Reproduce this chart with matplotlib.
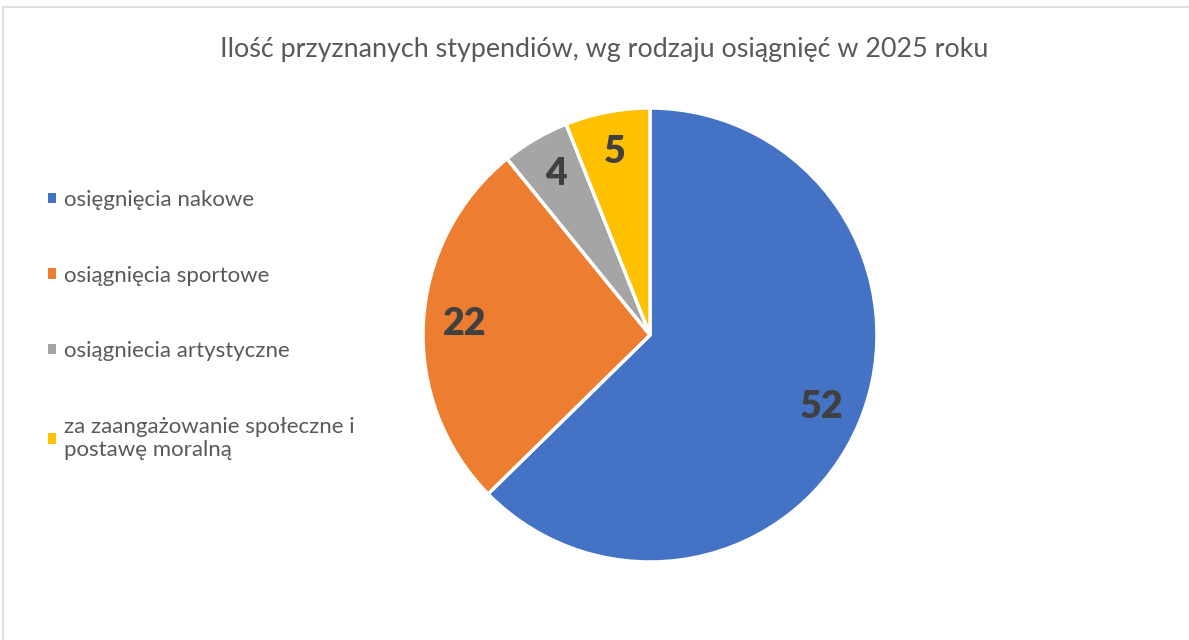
import matplotlib
matplotlib.use("Agg")
import matplotlib.pyplot as plt
from matplotlib.lines import Line2D
from matplotlib.patches import Patch

plt.rcParams['font.family'] = ['Lato', 'Open Sans', 'DejaVu Sans']

title = "Ilość przyznanych stypendiów, wg rodzaju osiągnięć w 2025 roku"
categories = ["osięgnięcia nakowe", "osiągnięcia sportowe", "osiągniecia artystyczne",
              "za zaangażowanie społeczne i\npostawę moralną"]
values = [52, 22, 4, 5]
colors = ["#4472C4", "#ED7D31", "#A5A5A5", "#FFC000"]

fig = plt.figure(figsize=(11.89, 6.4), dpi=100)
fig.patch.set_facecolor("white")

ax = fig.add_axes([423/1189, (640-562)/640, 454/1189, 454/640])
wedges, texts, autotexts = ax.pie(
    values, colors=colors, startangle=90, counterclock=False,
    autopct=lambda p: f"{round(p*sum(values)/100):d}", pctdistance=0.82,
    wedgeprops=dict(edgecolor="white", linewidth=2.5),
    textprops=dict(fontsize=27, fontweight="heavy", color="#404040"))
ax.set_xlim(-1, 1)
ax.set_ylim(-1, 1)
ax.set_aspect("equal")
ax.axis("off")

fig.text(604/1189, 1-49/640, title, ha="center", va="center", fontsize=19.4, color="#595959")

handles = [Patch(facecolor=c, edgecolor="none") for c in colors]
leg = fig.legend(handles, categories, loc="upper left", bbox_to_anchor=(28/1189, 1-170/640),
                 frameon=False, fontsize=16, labelcolor="#595959", handlelength=0.36,
                 handleheight=0.36, handletextpad=0.36, labelspacing=2.5, alignment="left")

fig.add_artist(Line2D([3/1189, 1], [1-7/640, 1-7/640], color="#D9D9D9", lw=1.2))
fig.add_artist(Line2D([3/1189, 3/1189], [0, 1-7/640], color="#D9D9D9", lw=1.2))

fig.savefig("out.png", dpi=100, facecolor="white")
